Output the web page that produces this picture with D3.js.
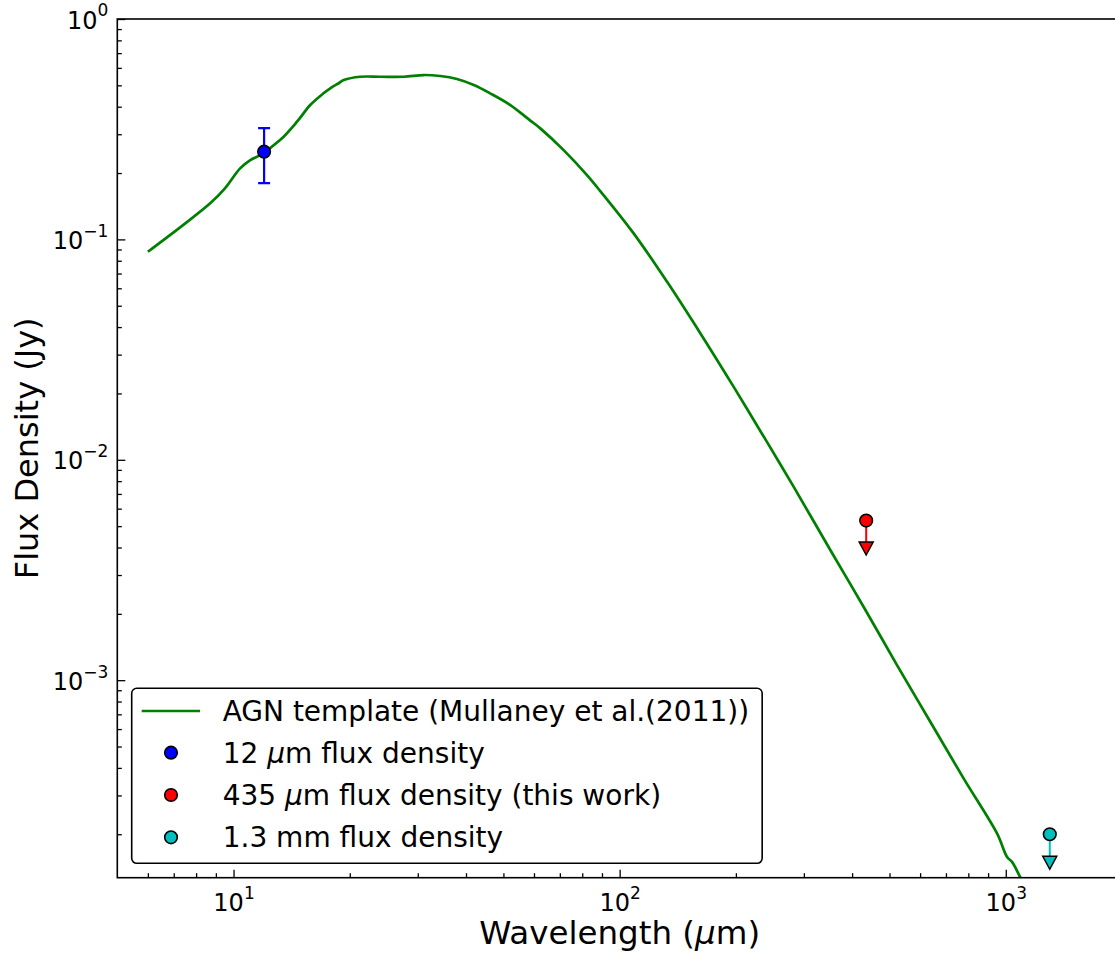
<!DOCTYPE html>
<html>
<head>
<meta charset="utf-8">
<script src="https://cdn.jsdelivr.net/npm/d3@7"></script>
<style>
  body { margin: 0; background: #fff; }
  svg { font-family: "DejaVu Sans", sans-serif; }
</style>
</head>
<body>
<div class="container"></div>
<script>
// AGN template
const templateWave = [6.0, 7.4, 8.7, 9.5, 10.4, 11.05, 11.7, 13.2, 14.6, 15.8, 17.1, 17.8, 18.8, 19.3, 21.3, 24.0, 27.6, 31.1, 34.3, 37.9, 41.9, 46.2, 52.1, 58.5, 62.3, 71.6, 82.3, 89.1, 108.7, 132.7, 161.9, 197.4, 240.9, 282.4, 351.5, 428.6, 523.2, 638.1, 778.3, 949.9, 1008, 1039, 1092, 1145]
const templateFlux = [0.0879, 0.1161, 0.1457, 0.1704, 0.2101, 0.2291, 0.2413, 0.2823, 0.3419, 0.4071, 0.4600, 0.4847, 0.5138, 0.5285, 0.5471, 0.547, 0.547, 0.5569, 0.5511, 0.5341, 0.5016, 0.4600, 0.4071, 0.3479, 0.3190, 0.2542, 0.1958, 0.1656, 0.1065, 0.0642, 0.03744, 0.02142, 0.01202, 0.007534, 0.003888, 0.002149, 0.001168, 0.000646, 0.0003575, 0.0002012, 0.0001576, 0.0001495, 0.000127, 0.000109]

// measured points
const pointNames = ['12 μm', '435 μm', '1.3 mm']
const pointWave = [12, 435, 1300]
const pointFlux = [0.25, 0.0053, 0.0002]
const errLow = [0.18, null, null]
const errHigh = [0.32, null, null]
const limitEnd = [null, 0.004, 0.00015]
const pointColors = ['#0000ff', '#ff0000', '#00bfbf']

const legendLabels = [
  ['AGN template (Mullaney et al.(2011))'],
  ['12 ', 'μ', 'm flux density'],
  ['435 ', 'μ', 'm flux density (this work)'],
  ['1.3 mm flux density']
]

const xMajor = [10, 100, 1000]
const xMinor = [6, 7, 8, 9, 20, 30, 40, 50, 60, 70, 80, 90, 200, 300, 400, 500, 600, 700, 800, 900]
const yMajor = [1, 0.1, 0.01, 0.001]
const yMinor = [0.2, 0.3, 0.4, 0.5, 0.6, 0.7, 0.8, 0.9,
  0.02, 0.03, 0.04, 0.05, 0.06, 0.07, 0.08, 0.09,
  0.002, 0.003, 0.004, 0.005, 0.006, 0.007, 0.008, 0.009,
  0.0002, 0.0003, 0.0004, 0.0005, 0.0006, 0.0007, 0.0008, 0.0009]

const width = 1115
const height = 955
const pLeft = 117.3, pTop = 19, pRight = 1122, pBottom = 877.7

const xScale = d3.scaleLog().domain([5, 2000]).range([pLeft, pRight])
const yScale = d3.scaleLog().domain([1.27e-4, 1]).range([pBottom, pTop])

const svg = d3.select('.container')
  .append('svg')
    .attr('width', width)
    .attr('height', height)

svg.append('clipPath')
    .attr('id', 'plot-clip')
  .append('rect')
    .attr('x', pLeft)
    .attr('y', pTop)
    .attr('width', pRight - pLeft)
    .attr('height', pBottom - pTop)

// ticks (inward)
const expOf = d => Math.round(Math.log10(d)).toString().replace('-', '\u2212')

const xAxisMinor = d3.axisBottom(xScale).tickValues(xMinor).tickSizeInner(-4.5).tickSizeOuter(0).tickFormat('')
const xAxisMajor = d3.axisBottom(xScale).tickValues(xMajor).tickSizeInner(-8).tickSizeOuter(0).tickPadding(12).tickFormat('')
const yAxisMinor = d3.axisLeft(yScale).tickValues(yMinor).tickSizeInner(-4.5).tickSizeOuter(0).tickFormat('')
const yAxisMajor = d3.axisLeft(yScale).tickValues(yMajor).tickSizeInner(-8).tickSizeOuter(0).tickPadding(9).tickFormat('')

svg.append('g').attr('transform', `translate(0, ${pBottom})`).call(xAxisMinor)
const gx = svg.append('g').attr('id', 'x-axis').attr('transform', `translate(0, ${pBottom})`).call(xAxisMajor)
svg.append('g').attr('transform', `translate(${pLeft}, 0)`).call(yAxisMinor)
const gy = svg.append('g').attr('id', 'y-axis').attr('transform', `translate(${pLeft}, 0)`).call(yAxisMajor)

svg.selectAll('.domain').remove()
svg.selectAll('.tick line').attr('stroke', '#000').attr('stroke-width', 1.3)

const supLabel = function (d) {
  const t = d3.select(this)
  t.text('10')
  t.append('tspan').style('font-size', '17px').attr('dy', '-0.72em').text(expOf(d))
}

gx.selectAll('.tick text')
    .style('font-size', '24px')
    .style('font-family', '"DejaVu Sans", sans-serif')
    .attr('fill', '#000')
    .attr('dy', '0.88em')
    .each(supLabel)

gy.selectAll('.tick text')
    .style('font-size', '24px')
    .style('font-family', '"DejaVu Sans", sans-serif')
    .attr('fill', '#000')
    .attr('dy', '0.38em')
    .each(supLabel)

// template curve
const line = d3.line()
  .x(d => xScale(d[0]))
  .y(d => yScale(d[1]))
  .curve(d3.curveCatmullRom.alpha(0.5))

svg.append('path')
    .datum(d3.zip(templateWave, templateFlux))
    .attr('clip-path', 'url(#plot-clip)')
    .attr('fill', 'none')
    .attr('stroke', '#008000')
    .attr('stroke-width', 2.7)
    .attr('d', line)

// measured points
const pts = svg.append('g').attr('clip-path', 'url(#plot-clip)')

pointWave.forEach((w, i) => {
  const cx = xScale(w)
  const cy = yScale(pointFlux[i])
  const col = pointColors[i]
  if (errLow[i] !== null) {
    const y0 = yScale(errLow[i]), y1 = yScale(errHigh[i])
    pts.append('line').attr('x1', cx).attr('x2', cx).attr('y1', y0).attr('y2', y1)
      .attr('stroke', col).attr('stroke-width', 2.2)
    ;[y0, y1].forEach(yy => {
      pts.append('line').attr('x1', cx - 6).attr('x2', cx + 6).attr('y1', yy).attr('y2', yy)
        .attr('stroke', col).attr('stroke-width', 2.2)
    })
  }
  if (limitEnd[i] !== null) {
    const ty = yScale(limitEnd[i])
    pts.append('line').attr('x1', cx).attr('x2', cx).attr('y1', cy).attr('y2', ty)
      .attr('stroke', col).attr('stroke-width', 2)
    pts.append('path')
      .attr('d', `M${cx - 7},${ty - 5.5} L${cx + 7},${ty - 5.5} L${cx},${ty + 7.5} Z`)
      .attr('fill', col).attr('stroke', '#000').attr('stroke-width', 1.5).attr('stroke-linejoin', 'miter')
  }
  pts.append('circle')
    .attr('cx', cx).attr('cy', cy).attr('r', 6.3)
    .attr('fill', col).attr('stroke', '#000').attr('stroke-width', 1.6)
})

// frame
svg.append('rect')
    .attr('x', pLeft).attr('y', pTop)
    .attr('width', pRight - pLeft).attr('height', pBottom - pTop)
    .attr('fill', 'none').attr('stroke', '#000').attr('stroke-width', 1.6)

// axis labels
svg.append('text')
    .attr('x', (pLeft + pRight) / 2)
    .attr('y', 944)
    .attr('text-anchor', 'middle')
    .attr('font-size', 32.5)
    .call(t => {
      t.append('tspan').text('Wavelength (')
      t.append('tspan').attr('font-style', 'italic').text('μ')
      t.append('tspan').text('m)')
    })

svg.append('text')
    .attr('transform', `translate(37.5, ${(pTop + pBottom) / 2}) rotate(-90)`)
    .attr('text-anchor', 'middle')
    .attr('font-size', 32)
    .text('Flux Density (Jy)')

// legend
const legX = 131.7, legY = 688.3
const rowY = [711, 752.7, 795, 837.3]
const legend = svg.append('g')
const legBox = legend.append('rect')
    .attr('x', legX).attr('y', legY)
    .attr('height', 863.3 - legY)
    .attr('rx', 5)
    .attr('fill', '#fff').attr('stroke', '#000').attr('stroke-width', 1.6)

legend.append('line')
    .attr('x1', 141.7).attr('x2', 200).attr('y1', rowY[0]).attr('y2', rowY[0])
    .attr('stroke', '#008000').attr('stroke-width', 2.7)

pointColors.forEach((c, i) => {
  legend.append('circle')
    .attr('cx', 171).attr('cy', rowY[i + 1]).attr('r', 6.3)
    .attr('fill', c).attr('stroke', '#000').attr('stroke-width', 1.6)
})

let maxRight = 0
legendLabels.forEach((parts, i) => {
  const t = legend.append('text')
    .attr('x', 222.7)
    .attr('y', rowY[i] + 10)
    .attr('font-size', 28)
  parts.forEach(p => {
    const ts = t.append('tspan').text(p)
    if (p === 'μ') ts.attr('font-style', 'italic')
  })
  const bb = t.node().getBBox()
  maxRight = Math.max(maxRight, bb.x + bb.width)
})
legBox.attr('width', maxRight + 13 - legX)
</script>
</body>
</html>
